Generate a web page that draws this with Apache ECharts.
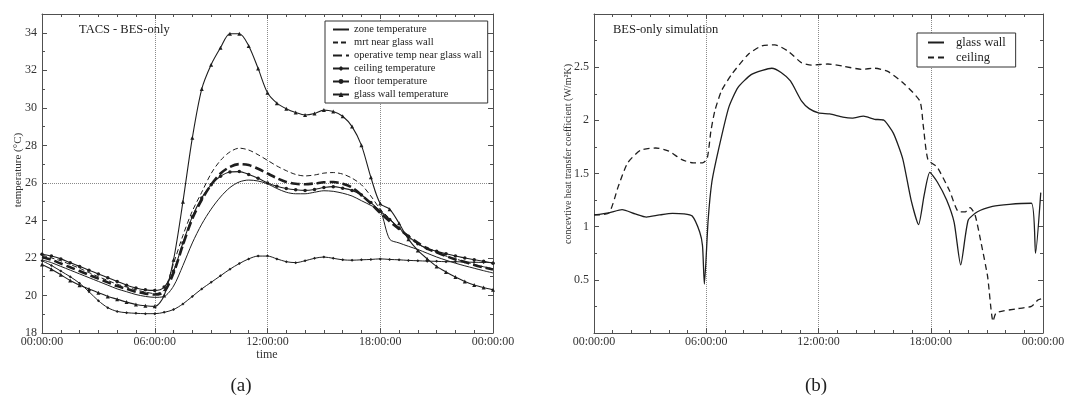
<!DOCTYPE html>
<html>
<head>
<meta charset="utf-8">
<script src="https://cdn.jsdelivr.net/npm/echarts@6/dist/echarts.min.js"></script>
<style>
html,body{margin:0;padding:0;background:#fff;}
#chart{width:1091px;height:398px;}
</style>
</head>
<body>
<div id="chart"></div>
<script>
// ---------- data (a) ----------
const hoursLeft = [0,0.5,1,1.5,2,2.5,3,3.5,4,4.5,5,5.5,6,6.5,7,7.5,8,8.5,9,9.5,10,10.5,11,11.5,12,12.5,13,13.5,14,14.5,15,15.5,16,16.5,17,17.5,18,18.5,19,19.5,20,20.5,21,21.5,22,22.5,23,23.5,24];
const zoneTemp = [21.9,21.75,21.55,21.35,21.15,20.95,20.75,20.55,20.35,20.2,20.05,19.95,19.9,19.95,20.5,21.6,22.8,23.8,24.6,25.25,25.75,26.05,26.15,26.1,25.95,25.7,25.5,25.42,25.42,25.5,25.58,25.55,25.45,25.3,25.05,24.8,24.5,23.0,22.8,22.62,22.45,22.25,22.05,21.88,21.72,21.58,21.45,21.32,21.2];
const mrtTemp = [22.15,22.0,21.85,21.65,21.45,21.22,21.0,20.8,20.6,20.45,20.3,20.18,20.1,20.3,21.7,23.2,24.5,25.5,26.5,27.2,27.65,27.85,27.75,27.5,27.2,26.9,26.65,26.45,26.37,26.42,26.52,26.55,26.47,26.25,25.9,25.3,24.6,24.1,23.55,23.1,22.75,22.5,22.28,22.1,21.95,21.8,21.65,21.53,21.42];
const operativeTemp = [22.05,21.9,21.7,21.5,21.3,21.1,20.9,20.7,20.5,20.35,20.2,20.1,20.05,20.2,21.2,22.7,24.1,25.1,25.9,26.5,26.85,27.0,26.95,26.75,26.5,26.25,26.05,25.95,25.93,25.97,26.03,26.05,25.95,25.75,25.35,24.9,24.4,23.95,23.55,23.15,22.8,22.5,22.3,22.1,21.92,21.78,21.63,21.5,21.38];
const ceilingTemp = [21.85,21.6,21.3,21.0,20.65,20.2,19.72,19.35,19.15,19.08,19.05,19.03,19.03,19.1,19.25,19.55,19.95,20.35,20.7,21.05,21.4,21.7,21.95,22.1,22.1,21.95,21.8,21.75,21.85,21.98,22.05,21.98,21.9,21.88,21.9,21.92,21.95,21.92,21.9,21.87,21.85,21.83,21.82,21.8,21.8,21.78,21.77,21.76,21.75];
const floorTemp = [22.2,22.1,21.95,21.75,21.55,21.35,21.15,20.95,20.75,20.55,20.4,20.3,20.27,20.45,21.3,22.8,24.2,25.2,25.9,26.35,26.58,26.6,26.45,26.25,26.0,25.82,25.7,25.63,25.6,25.65,25.75,25.8,25.72,25.6,25.35,24.95,24.5,24.05,23.6,23.15,22.75,22.5,22.35,22.22,22.1,22.0,21.9,21.82,21.72];
const glassTemp = [21.65,21.4,21.1,20.8,20.55,20.35,20.15,19.95,19.8,19.65,19.52,19.45,19.42,20.0,21.9,25.0,28.4,31.0,32.3,33.2,33.95,33.95,33.3,32.1,30.8,30.25,29.95,29.75,29.62,29.7,29.88,29.8,29.55,29.0,28.0,26.3,24.9,24.6,23.85,23.0,22.4,21.95,21.55,21.25,20.98,20.75,20.56,20.42,20.3];

// ---------- data (b) ----------
const glassWallH = [0,0.8,1.5,2.2,2.8,3.5,4.2,4.8,5.25,5.65,5.8,5.9,6.1,6.3,6.65,7.2,7.7,8.4,9.0,9.5,10.0,10.5,11.1,11.5,12.0,12.6,13.3,13.8,14.4,15.0,15.5,16.0,16.5,16.95,17.35,17.65,17.95,18.35,18.85,19.25,19.6,20.0,20.5,21.3,22.2,23.38,23.6,23.88];
const glassWallV = [1.11,1.13,1.16,1.12,1.09,1.11,1.125,1.12,1.1,0.95,0.82,0.46,1.06,1.42,1.72,2.12,2.31,2.43,2.47,2.49,2.45,2.37,2.18,2.11,2.07,2.06,2.03,2.02,2.04,2.01,2.0,1.88,1.64,1.25,1.02,1.3,1.51,1.42,1.25,1.04,0.64,1.06,1.14,1.19,1.21,1.22,0.75,1.32];
const ceilingH = [0,0.8,1.3,1.8,2.5,3.3,4.0,4.7,5.3,5.8,6.05,6.25,6.46,6.82,7.35,8.24,8.96,9.67,10.38,11.1,11.63,12.5,13.3,14.3,15.0,15.7,16.6,17.42,17.6,17.85,18.34,19.0,19.5,19.85,20.1,20.37,20.7,21.04,21.33,21.5,22.67,23.38,23.73,23.9];
const ceilingV = [1.11,1.13,1.38,1.6,1.72,1.74,1.71,1.63,1.6,1.6,1.64,1.9,2.09,2.28,2.43,2.62,2.7,2.71,2.65,2.54,2.52,2.53,2.51,2.48,2.49,2.46,2.34,2.18,1.95,1.63,1.56,1.34,1.14,1.14,1.18,1.11,0.84,0.53,0.11,0.19,0.23,0.25,0.31,0.32];

// ---------- labels ----------
const xTickLabels = ['00:00:00','06:00:00','12:00:00','18:00:00','00:00:00'];
const leftNames = ['zone temperature','mrt near glass wall','operative temp near glass wall','ceiling temperature','floor temperature','glass wall temperature'];
const rightNames = ['glass wall','ceiling'];
const FONT = 'Liberation Serif';
const INK = '#1e1e1e';
const AX = '#505050';

function zip(xs, ys){ return xs.map((x,i)=>[x, ys[i]]); }

function xAxisDef(g, pos){
  const bottom = pos === 'bottom';
  return {
    type:'value', gridIndex:g, position:pos, min:0, max:24, interval:6,
    axisLine:{show:true, onZero:false, lineStyle:{color:AX, width:1}},
    axisTick:{show:true, inside:true, length:5, lineStyle:{color:AX}},
    minorTick:{show:true, splitNumber:6, length:3, lineStyle:{color:AX}},
    axisLabel:{show:bottom, formatter:(v)=>xTickLabels[Math.round(v/6)], fontFamily:FONT, fontSize:12, color:'#333', margin:3},
    splitLine:{show:bottom, lineStyle:{type:'dotted', color:'#8a8a8a', width:1}}
  };
}
function yAxisDef(g, pos, min, max, interval, fmt){
  const left = pos === 'left';
  return {
    type:'value', gridIndex:g, position:pos, min:min, max:max, interval:interval,
    axisLine:{show:true, onZero:false, lineStyle:{color:AX, width:1}},
    axisTick:{show:true, inside:true, length:5, lineStyle:{color:AX}},
    minorTick:{show:true, splitNumber:2, length:3, lineStyle:{color:AX}},
    axisLabel:{show:left, formatter:fmt, fontFamily:FONT, fontSize:12, color:'#333', margin:5},
    splitLine:{show:false}
  };
}

const hideSym = {opacity:0};
const smallSym = (s)=>({symbolSize:s});

const chart = echarts.init(document.getElementById('chart'), null, {renderer:'canvas'});

const option = {
  animation:false,
  backgroundColor:'#ffffff',
  textStyle:{fontFamily:FONT},
  grid:[
    {left:42, right:598, top:14, bottom:65},
    {left:594, right:48, top:14, bottom:65}
  ],
  xAxis:[ xAxisDef(0,'bottom'), xAxisDef(0,'top'), xAxisDef(1,'bottom'), xAxisDef(1,'top') ],
  yAxis:[
    yAxisDef(0,'left',18,35,2,(v)=>(v>34.5)?'':String(v)),
    yAxisDef(0,'right',18,35,2,(v)=>String(v)),
    yAxisDef(1,'left',0,3,0.5,(v)=>(v===0||v===3)?'':String(v)),
    yAxisDef(1,'right',0,3,0.5,(v)=>String(v))
  ],
  legend:[
    {
      data:[
        {name:leftNames[0], itemStyle:hideSym},
        {name:leftNames[1], itemStyle:hideSym},
        {name:leftNames[2], itemStyle:hideSym},
        {name:leftNames[3]},
        {name:leftNames[4]},
        {name:leftNames[5]}
      ],
      orient:'vertical', left:325, top:21,
      padding:[2,6,2,7], itemGap:0, itemWidth:16, itemHeight:6,
      borderColor:'#333', borderWidth:1, backgroundColor:'#fff',
      textStyle:{fontFamily:FONT, fontSize:10.5, color:'#222', lineHeight:13},
      selectedMode:false
    },
    {
      data:[
        {name:rightNames[0], itemStyle:hideSym},
        {name:rightNames[1], itemStyle:hideSym}
      ],
      orient:'vertical', left:917, top:33,
      padding:[2,10,2,10], itemGap:0, itemWidth:16, itemHeight:8,
      borderColor:'#333', borderWidth:1, backgroundColor:'#fff',
      textStyle:{fontFamily:FONT, fontSize:12.5, color:'#222', lineHeight:15, padding:[0,0,0,7]},
      selectedMode:false
    }
  ],
  series:[
    {name:leftNames[0], type:'line', xAxisIndex:0, yAxisIndex:0, data:zip(hoursLeft, zoneTemp),
     symbol:'none', smooth:0.3, color:INK, lineStyle:{color:INK, width:1}, z:3,
     markLine:{silent:true, symbol:'none', label:{show:false}, lineStyle:{type:'dotted', color:'#8a8a8a', width:1}, data:[{yAxis:26}], z:1}},
    {name:leftNames[1], type:'line', xAxisIndex:0, yAxisIndex:0, data:zip(hoursLeft, mrtTemp),
     symbol:'none', smooth:0.3, color:INK, lineStyle:{color:INK, width:1, type:[5,3]}, z:3},
    {name:leftNames[2], type:'line', xAxisIndex:0, yAxisIndex:0, data:zip(hoursLeft, operativeTemp),
     symbol:'none', smooth:0.3, color:INK, lineStyle:{color:INK, width:2.6, type:[9,4]}, z:3},
    {name:leftNames[3], type:'line', xAxisIndex:0, yAxisIndex:0, data:zip(hoursLeft, ceilingTemp),
     symbol:'diamond', symbolSize:3, showAllSymbol:true, smooth:0.3, color:INK, itemStyle:{color:INK},
     lineStyle:{color:INK, width:1}, z:3},
    {name:leftNames[4], type:'line', xAxisIndex:0, yAxisIndex:0, data:zip(hoursLeft, floorTemp),
     symbol:'circle', symbolSize:3.5, showAllSymbol:true, smooth:0.3, color:INK, itemStyle:{color:INK},
     lineStyle:{color:INK, width:1.1}, z:3},
    {name:leftNames[5], type:'line', xAxisIndex:0, yAxisIndex:0, data:zip(hoursLeft, glassTemp),
     symbol:'triangle', symbolSize:4, showAllSymbol:true, smooth:0.3, color:INK, itemStyle:{color:INK},
     lineStyle:{color:INK, width:1.1}, z:3},
    {name:rightNames[1], type:'line', xAxisIndex:2, yAxisIndex:2, data:zip(ceilingH, ceilingV),
     symbol:'none', smooth:0.2, color:INK, lineStyle:{color:INK, width:1.3, type:[6,4]}, z:3},
    {name:rightNames[0], type:'line', xAxisIndex:2, yAxisIndex:2, data:zip(glassWallH, glassWallV),
     symbol:'none', smooth:0.2, color:INK, lineStyle:{color:INK, width:1.3}, z:4}
  ],
  graphic:[
    {type:'text', left:79, top:23, style:{text:'TACS - BES-only', fontFamily:FONT, fontSize:12.5, fill:'#222'}},
    {type:'text', left:613, top:23, style:{text:'BES-only simulation', fontFamily:FONT, fontSize:12.5, fill:'#222'}},
    {type:'text', x:18, y:170, rotation:Math.PI/2,
     style:{text:'temperature (°C)', fontFamily:FONT, fontSize:11, fill:'#333', align:'center', verticalAlign:'middle', textAlign:'center', textVerticalAlign:'middle'}},
    {type:'text', x:568, y:154, rotation:Math.PI/2,
     style:{text:'concevtive heat transfer coefficient (W/m²K)', fontFamily:FONT, fontSize:10, fill:'#333', align:'center', verticalAlign:'middle', textAlign:'center', textVerticalAlign:'middle'}},
    {type:'text', x:267, y:355,
     style:{text:'time', fontFamily:FONT, fontSize:12, fill:'#333', align:'center', verticalAlign:'middle', textAlign:'center', textVerticalAlign:'middle'}},
    {type:'text', x:241, y:386,
     style:{text:'(a)', fontFamily:FONT, fontSize:19, fill:'#222', align:'center', verticalAlign:'middle', textAlign:'center', textVerticalAlign:'middle'}},
    {type:'text', x:816, y:386,
     style:{text:'(b)', fontFamily:FONT, fontSize:19, fill:'#222', align:'center', verticalAlign:'middle', textAlign:'center', textVerticalAlign:'middle'}}
  ]
};
chart.setOption(option);
</script>
</body>
</html>
